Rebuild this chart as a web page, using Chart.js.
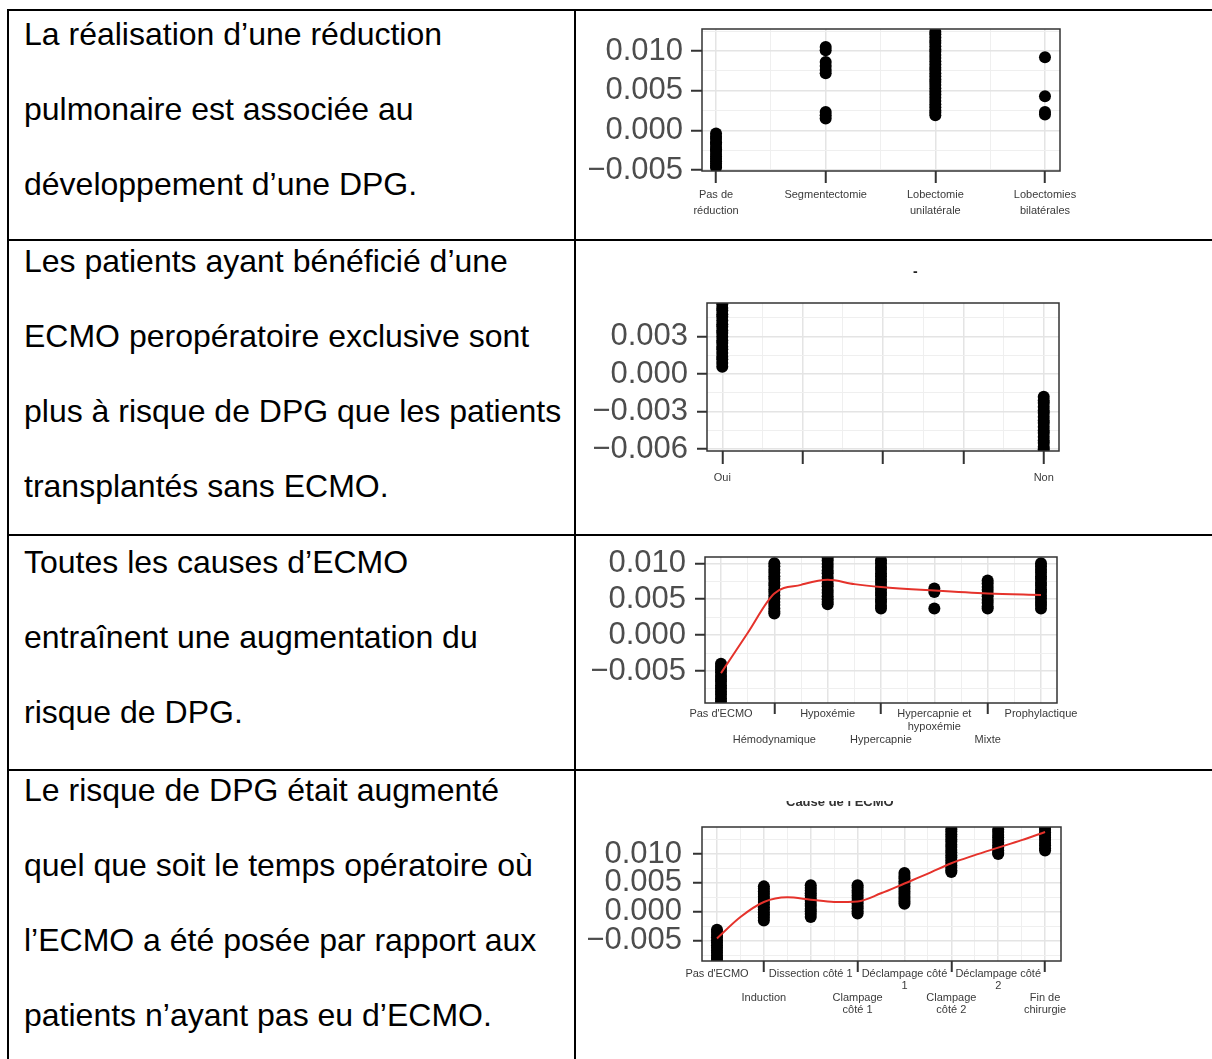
<!DOCTYPE html>
<html>
<head>
<meta charset="utf-8">
<script src="https://cdn.jsdelivr.net/npm/chart.js@4.4.1/dist/chart.umd.min.js"></script>
<style>
  body { margin: 0; background: #fff; width: 1212px; height: 1059px; overflow: hidden; position: relative;
         font-family: 'Liberation Sans', Arial, sans-serif; }
  .hl { position: absolute; left: 7px; right: 0; height: 2px; background: #000; }
  .vl { position: absolute; width: 2px; background: #000; }
  .txt { position: absolute; left: 24px; font-size: 32px; line-height: 75px; white-space: nowrap; color: #000; }
  .box { position: absolute; }
  .clip { position: absolute; overflow: hidden; }
</style>
</head>
<body>
<div class="hl" style="top:9px"></div>
<div class="hl" style="top:239px"></div>
<div class="hl" style="top:534px"></div>
<div class="hl" style="top:769px"></div>
<div class="vl" style="left:7px; top:9px; height:1050px"></div>
<div class="vl" style="left:574px; top:9px; height:1050px"></div>

<div class="txt" style="top:-3px">La réalisation d’une réduction<br>pulmonaire est associée au<br>développement d’une DPG.</div>
<div class="txt" style="top:224px">Les patients ayant bénéficié d’une<br>ECMO peropératoire exclusive sont<br>plus à risque de DPG que les patients<br>transplantés sans ECMO.</div>
<div class="txt" style="top:525px">Toutes les causes d’ECMO<br>entraînent une augmentation du<br>risque de DPG.</div>
<div class="txt" style="top:753px">Le risque de DPG était augmenté<br>quel que soit le temps opératoire où<br>l’ECMO a été posée par rapport aux<br>patients n’ayant pas eu d’ECMO.</div>

<div class="box" style="left:585px; top:15px; width:620px; height:215px"><canvas id="c1"></canvas></div>
<div class="box" style="left:585px; top:255px; width:620px; height:275px"><canvas id="c2"></canvas></div>
<div class="box" style="left:585px; top:545px; width:620px; height:220px"><canvas id="c3"></canvas></div>
<div class="box" style="left:585px; top:780px; width:620px; height:255px"><canvas id="c4"></canvas></div>

<div class="clip" style="left:913px; top:264px; width:12px; height:16px; font-weight:bold; font-size:14px; line-height:14px; color:#222">-</div>
<div class="clip" style="left:786px; top:801px; width:120px; height:6px">
  <div style="position:relative; top:-6px; font-weight:bold; font-size:13px; line-height:13px; color:#333; white-space:nowrap">Cause de l’ECMO</div>
</div>

<script>
// ---- row 1 : type de réduction pulmonaire
const R1_CATS = [['Pas de', 'réduction'], 'Segmentectomie', ['Lobectomie', 'unilatérale'], ['Lobectomies', 'bilatérales']]
const R1_X_MINOR = [0.5, 1.5, 2.5]
const R1_Y_TICKS = [-0.005, 0, 0.005, 0.010]
const R1_Y_MINOR = [-0.0025, 0.0025, 0.0075, 0.0125]
const R1_VALUES = [
  [-0.0004, -0.0008, -0.0011, -0.0015, -0.0017, -0.0021, -0.0024, -0.0026, -0.0030, -0.0033, -0.0036, -0.0039, -0.0042, -0.0045, -0.0047],
  [0.0105, 0.0101, 0.0086, 0.0081, 0.0076, 0.0072, 0.0023, 0.0019, 0.0015],
  [0.0124, 0.0121, 0.0117, 0.0113, 0.0110, 0.0106, 0.0102, 0.0099, 0.0095, 0.0091, 0.0087, 0.0083, 0.0079, 0.0076,
   0.0072, 0.0068, 0.0064, 0.0061, 0.0057, 0.0053, 0.0049, 0.0045, 0.0041, 0.0037, 0.0033, 0.0029, 0.0025, 0.0022, 0.0019],
  [0.0092, 0.0043, 0.0023, 0.0020],
]

// ---- row 2 : ECMO peropératoire exclusive
const R2_CATS = ['Oui', '', '', '', 'Non']
const R2_X_MINOR = [0.5, 1.5, 2.5, 3.5]
const R2_Y_TICKS = [-0.006, -0.003, 0, 0.003]
const R2_Y_MINOR = [-0.0045, -0.0015, 0.0015, 0.0045]
const R2_VALUES = [
  [0.0056, 0.0053, 0.0051, 0.0048, 0.0046, 0.0043, 0.0040, 0.0038, 0.0035, 0.0033, 0.0030, 0.0027, 0.0025, 0.0022,
   0.0020, 0.0017, 0.0014, 0.0012, 0.0009, 0.0006],
  [], [], [],
  [-0.0018, -0.0021, -0.0023, -0.0026, -0.0029, -0.0031, -0.0034, -0.0037, -0.0039, -0.0042, -0.0045, -0.0047,
   -0.0050, -0.0053, -0.0055, -0.0058, -0.0060],
]

// ---- row 3 : cause de l'ECMO
const R3_CATS = ['Pas d\'ECMO', ['', '', 'Hémodynamique'], 'Hypoxémie', ['', '', 'Hypercapnie'],
  ['Hypercapnie et', 'hypoxémie'], ['', '', 'Mixte'], 'Prophylactique']
const R3_X_MINOR = [0.5, 1.5, 2.5, 3.5, 4.5, 5.5]
const R3_Y_TICKS = [-0.005, 0, 0.005, 0.010]
const R3_Y_MINOR = [-0.0075, -0.0025, 0.0025, 0.0075]
const R3_VALUES = [
  [-0.0040, -0.0044, -0.0048, -0.0052, -0.0057, -0.0061, -0.0065, -0.0070, -0.0074, -0.0079, -0.0083, -0.0088, -0.0092],
  [0.0100, 0.0096, 0.0091, 0.0087, 0.0082, 0.0078, 0.0073, 0.0069, 0.0064, 0.0060, 0.0055, 0.0051, 0.0046, 0.0042, 0.0037, 0.0033, 0.0030],
  [0.0108, 0.0104, 0.0099, 0.0095, 0.0090, 0.0086, 0.0081, 0.0077, 0.0072, 0.0068, 0.0063, 0.0059, 0.0054, 0.0050, 0.0046, 0.0043],
  [0.0104, 0.0100, 0.0095, 0.0091, 0.0086, 0.0082, 0.0077, 0.0073, 0.0068, 0.0064, 0.0059, 0.0055, 0.0050, 0.0046, 0.0041, 0.0037],
  [0.0065, 0.0060, 0.0037],
  [0.0076, 0.0072, 0.0067, 0.0063, 0.0058, 0.0054, 0.0049, 0.0045, 0.0040, 0.0037],
  [0.0100, 0.0096, 0.0091, 0.0087, 0.0082, 0.0078, 0.0073, 0.0069, 0.0064, 0.0060, 0.0055, 0.0051, 0.0046, 0.0042, 0.0037],
]
const R3_FIT_X = [0, 0.5, 1, 1.5, 2, 2.5, 3, 4, 5, 6]
const R3_FIT_Y = [-0.0053, 0.0003, 0.0058, 0.0070, 0.0077, 0.0071, 0.0067, 0.0062, 0.0058, 0.0056]

// ---- row 4 : temps opératoire de pose
const R4_CATS = ['Pas d\'ECMO', ['', '', 'Induction'], 'Dissection côté 1', ['', '', 'Clampage', 'côté 1'],
  ['Déclampage côté', '1'], ['', '', 'Clampage', 'côté 2'], ['Déclampage côté', '2'], ['', '', 'Fin de', 'chirurgie']]
const R4_X_MINOR = [0.5, 1.5, 2.5, 3.5, 4.5, 5.5, 6.5]
const R4_Y_TICKS = [-0.005, 0, 0.005, 0.010]
const R4_Y_MINOR = [-0.0075, -0.0025, 0.0025, 0.0075, 0.0125]
const R4_VALUES = [
  [-0.0031, -0.0035, -0.0040, -0.0044, -0.0049, -0.0053, -0.0058, -0.0062, -0.0067, -0.0071, -0.0076, -0.0080, -0.0084],
  [0.0044, 0.0040, 0.0035, 0.0031, 0.0026, 0.0022, 0.0017, 0.0013, 0.0008, 0.0004, -0.0001, -0.0005, -0.0010, -0.0015],
  [0.0046, 0.0041, 0.0037, 0.0032, 0.0028, 0.0023, 0.0019, 0.0014, 0.0010, 0.0005, 0.0001, -0.0004, -0.0009],
  [0.0046, 0.0042, 0.0037, 0.0033, 0.0028, 0.0024, 0.0019, 0.0015, 0.0010, 0.0006, 0.0001, -0.0003],
  [0.0067, 0.0062, 0.0058, 0.0053, 0.0049, 0.0044, 0.0040, 0.0035, 0.0031, 0.0026, 0.0022, 0.0018, 0.0014],
  [0.0143, 0.0139, 0.0134, 0.0130, 0.0125, 0.0121, 0.0116, 0.0112, 0.0107, 0.0103, 0.0098, 0.0094, 0.0089, 0.0085, 0.0080, 0.0076, 0.0072, 0.0069],
  [0.0142, 0.0138, 0.0133, 0.0129, 0.0124, 0.0120, 0.0115, 0.0111, 0.0106, 0.0102, 0.0100],
  [0.0146, 0.0142, 0.0137, 0.0133, 0.0128, 0.0124, 0.0119, 0.0115, 0.0110, 0.0106],
]
const R4_FIT_X = [0, 0.5, 1, 1.5, 2, 2.5, 3, 3.5, 4, 4.5, 5, 5.5, 6, 6.5, 7]
const R4_FIT_Y = [-0.0046, -0.0009, 0.0017, 0.0025, 0.0021, 0.0017, 0.0018, 0.0032, 0.0049, 0.0066, 0.0084, 0.0098, 0.0111, 0.0124, 0.0138]

const Y_FONT = { family: "'Liberation Sans Narrow', 'Liberation Sans', Arial, sans-serif", size: 31 }
const X_FAMILY = "'Liberation Sans', Arial, sans-serif"

const near = (list, v) => list.some(t => Math.abs(t - v) < 1e-9)
const fmt = v => (v < 0 ? '\u2212' : '') + Math.abs(v).toFixed(3)
const byValue = (a, b) => a - b

// ggplot-like panel border, drawn over the points
const panelBorder = {
  id: 'panelBorder',
  afterDatasetsDraw(chart) {
    const { ctx, chartArea: a } = chart
    ctx.save()
    ctx.strokeStyle = '#333'
    ctx.lineWidth = 1.5
    ctx.strokeRect(a.left, a.top, a.right - a.left, a.bottom - a.top)
    ctx.restore()
  },
}

function dotPlot(id, o) {
  const datasets = []
  if (o.fitX) {
    datasets.push({
      type: 'line',
      data: o.fitX.map((x, i) => ({ x, y: o.fitY[i] })),
      borderColor: '#e5322b',
      borderWidth: 2,
      pointRadius: 0,
      cubicInterpolationMode: 'monotone',
      fill: false,
      clip: 0,
    })
  }
  datasets.push({
    type: 'scatter',
    data: o.values.flatMap((vals, i) => vals.map(y => ({ x: i, y }))),
    pointRadius: 6,
    pointBackgroundColor: '#000',
    pointBorderWidth: 0,
    clip: 0,
  })

  const xMajor = o.cats.map((_, i) => i)
  const gridColor = major => c => major(c.tick.value) ? '#e4e4e4' : '#efefef'
  const gridWidth = major => c => major(c.tick.value) ? 1.5 : 1
  const isX = v => Number.isInteger(v)
  const isY = v => near(o.yTicks, v)

  new Chart(document.getElementById(id), {
    type: 'scatter',
    data: { datasets },
    options: {
      responsive: true,
      maintainAspectRatio: false,
      animation: false,
      layout: { padding: { top: o.padTop, right: o.padRight, left: 0, bottom: 0 } },
      plugins: { legend: { display: false }, tooltip: { enabled: false } },
      scales: {
        x: {
          type: 'linear',
          min: o.xMin,
          max: o.xMax,
          afterBuildTicks: s => { s.ticks = [...xMajor, ...o.xMinor].sort(byValue).map(value => ({ value })) },
          afterFit: s => { s.height = o.xH; s.paddingLeft = 0; s.paddingRight = 0 },
          ticks: {
            autoSkip: false, maxRotation: 0, minRotation: 0,
            padding: o.xPad,
            color: '#3a3a3a',
            font: { family: X_FAMILY, size: 11, lineHeight: o.lineH + 'px' },
            callback: v => isX(v) ? o.cats[v] : '',
          },
          grid: {
            color: gridColor(isX), lineWidth: gridWidth(isX),
            drawTicks: true, tickLength: o.xTick, tickWidth: 2,
            tickColor: c => isX(c.tick.value) && (!o.oddTicksOnly || c.tick.value % 2 === 1) ? '#333' : 'rgba(0,0,0,0)',
          },
          border: { display: false },
        },
        y: {
          min: o.yMin,
          max: o.yMax,
          afterBuildTicks: s => { s.ticks = [...o.yTicks, ...o.yMinor].sort(byValue).map(value => ({ value })) },
          afterFit: s => { s.width = o.yW; s.paddingTop = 0; s.paddingBottom = 0 },
          ticks: {
            autoSkip: false,
            padding: o.yPad,
            color: '#4d4d4d',
            font: Y_FONT,
            callback: v => isY(v) ? fmt(v) : '',
          },
          grid: {
            color: gridColor(isY), lineWidth: gridWidth(isY),
            drawTicks: true, tickLength: o.yTick, tickWidth: 2,
            tickColor: c => isY(c.tick.value) ? '#333' : 'rgba(0,0,0,0)',
          },
          border: { display: false },
        },
      },
    },
    plugins: [panelBorder],
  })
}

dotPlot('c1', {
  cats: R1_CATS, values: R1_VALUES, xMinor: R1_X_MINOR, yTicks: R1_Y_TICKS, yMinor: R1_Y_MINOR,
  xMin: -0.128, xMax: 3.137, yMin: -0.00513, yMax: 0.01277,
  yW: 117, xH: 59, padTop: 14, padRight: 145,
  xTick: 12, xPad: 4, lineH: 16, yTick: 11, yPad: 8,
})
dotPlot('c2', {
  cats: R2_CATS, values: R2_VALUES, xMinor: R2_X_MINOR, yTicks: R2_Y_TICKS, yMinor: R2_Y_MINOR,
  xMin: -0.19, xMax: 4.19, yMin: -0.00614, yMax: 0.00569,
  yW: 122, xH: 79, padTop: 48, padRight: 146,
  xTick: 13, xPad: 6, lineH: 16, yTick: 10, yPad: 9,
})
dotPlot('c3', {
  cats: R3_CATS, values: R3_VALUES, fitX: R3_FIT_X, fitY: R3_FIT_Y,
  xMinor: R3_X_MINOR, yTicks: R3_Y_TICKS, yMinor: R3_Y_MINOR,
  xMin: -0.30, xMax: 6.30, yMin: -0.00946, yMax: 0.01088,
  yW: 120, xH: 62, padTop: 12, padRight: 148,
  xTick: 11, xPad: -6.5, lineH: 13, yTick: 10, yPad: 9, oddTicksOnly: true,
})
dotPlot('c4', {
  cats: R4_CATS, values: R4_VALUES, fitX: R4_FIT_X, fitY: R4_FIT_Y,
  xMinor: R4_X_MINOR, yTicks: R4_Y_TICKS, yMinor: R4_Y_MINOR,
  xMin: -0.32, xMax: 7.34, yMin: -0.00851, yMax: 0.01467,
  yW: 117, xH: 74, padTop: 47, padRight: 144,
  xTick: 11, xPad: -4, lineH: 12, yTick: 9, yPad: 11, oddTicksOnly: true,
})
</script>
</body>
</html>
